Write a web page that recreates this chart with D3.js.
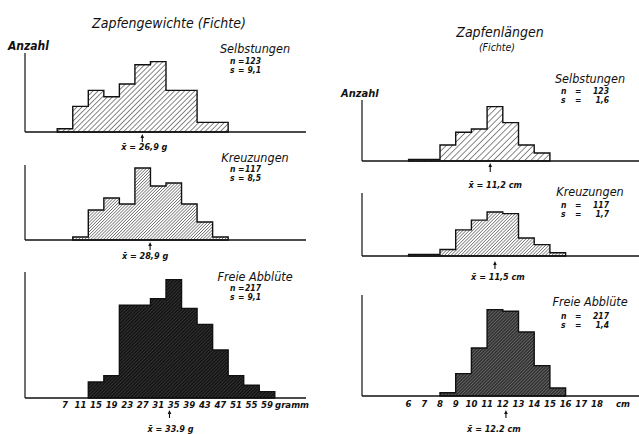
<!DOCTYPE html>
<html>
<head>
<meta charset="utf-8">
<script src="https://cdn.jsdelivr.net/npm/d3@7"></script>
<style>
  body { margin: 0; background: #fff; }
  text { font-family: "DejaVu Sans Condensed", "Liberation Sans Narrow", sans-serif; font-style: italic; fill: #111; }
</style>
</head>
<body>
<svg id="chart" width="639" height="434"></svg>
<script>
// --- data ---
// cone weights, 4 g classes (lower class limits), counts per class
const weightEdges = [5, 9, 13, 17, 21, 25, 29, 33, 37, 41, 45, 49, 53, 57];
const weightTicks = [7, 11, 15, 19, 23, 27, 31, 35, 39, 43, 47, 51, 55, 59];
const weightSelbst = [1, 8, 13, 11, 15, 21, 22, 13, 13, 3, 3, 0, 0, 0];
const weightKreuz  = [0, 1, 10, 14, 12, 24, 18, 19, 12, 6, 1, 0, 0, 0];
const weightFrei   = [0, 0, 5, 7, 29, 29, 31, 37, 28, 23, 15, 7, 4, 2];
const weightMeans  = [26.9, 28.9, 33.9];
const weightMeanLabels = ["26,9 g", "28,9 g", "33.9 g"];
const weightS = ["9,1", "8,5", "9,1"];

// cone lengths, 1 cm classes
const lengthEdges = [6, 7, 8, 9, 10, 11, 12, 13, 14, 15];
const lengthTicks = [6, 7, 8, 9, 10, 11, 12, 13, 14, 15, 16, 17, 18];
const lengthSelbst = [1, 1, 10, 18, 20, 34, 24, 10, 5, 0];
const lengthKreuz  = [1, 1, 4, 16, 22, 27, 26, 11, 7, 2];
const lengthFrei   = [0, 0, 2, 14, 30, 54, 53, 40, 19, 5];
const lengthMeans  = [11.2, 11.5, 12.2];
const lengthMeanLabels = ["11,2 cm", "11,5 cm", "12.2 cm"];
const lengthS = ["1,6", "1,7", "1,4"];

const groups = ["Selbstungen", "Kreuzungen", "Freie Abblüte"];
const groupN = [123, 117, 217];

const svg = d3.select("#chart");
const defs = svg.append("defs");

// hatch patterns
function hatch(id, gap, width, bg, fg) {
  const p = defs.append("pattern")
    .attr("id", id)
    .attr("patternUnits", "userSpaceOnUse")
    .attr("width", gap).attr("height", gap)
    .attr("patternTransform", "rotate(45)");
  p.append("rect").attr("width", gap).attr("height", gap).attr("fill", bg);
  p.append("line").attr("x1", 0).attr("y1", 0).attr("x2", 0).attr("y2", gap)
    .attr("stroke", fg).attr("stroke-width", width);
}
hatch("h-light", 3.6, 1.0, "#fff", "#111");
hatch("h-mid", 2.2, 0.9, "#fff", "#111");
hatch("h-dark", 2.4, 0.7, "#151515", "#606060");
hatch("h-light-r", 4.4, 1.0, "#fff", "#111");
hatch("h-mid-r", 2.3, 0.9, "#fff", "#111");
hatch("h-grey-r", 2.3, 0.9, "#333", "#909090");

const xW = d3.scaleLinear().domain([13, 33]).range([88.3, 166]);
const xL = d3.scaleLinear().domain([8, 12]).range([440, 502.8]);

const leftPanels = [
  { data: weightSelbst, base: 132, top: 53, k: 3.2, fill: "url(#h-light)", arrow: [2, 8], meanY: 150, labelDx: 2, nameY: 53, nY: 64, sY: 73 },
  { data: weightKreuz, base: 240, top: 165, k: 3.0, fill: "url(#h-mid)", arrow: [2, 8], meanY: 259, labelDx: -5, nameY: 162, nY: 172, sY: 181 },
  { data: weightFrei, base: 398, top: 272, k: 3.2, fill: "url(#h-dark)", arrow: [12, 8], meanY: 432, labelDx: 1, nameY: 281, nY: 291, sY: 300 }
];
const rightPanels = [
  { data: lengthSelbst, base: 161, top: 100, k: 1.6, fill: "url(#h-light-r)", arrow: [2, 9], meanY: 188, labelDx: 5, nameY: 83, nY: 94, sY: 103 },
  { data: lengthKreuz, base: 256, top: 193, k: 1.63, fill: "url(#h-mid-r)", arrow: [5, 8], meanY: 280, labelDx: 3, nameY: 196, nY: 208, sY: 217 },
  { data: lengthFrei, base: 396, top: 295, k: 1.6, fill: "url(#h-grey-r)", arrow: [14, 8], meanY: 432, labelDx: -12, nameY: 306, nY: 319, sY: 328 }
];

function drawSide(panels, edges, width, x, axisX, axisEnd, means, meanLabels, sVals, info) {
  panels.forEach((p, i) => {
    const y = d3.scaleLinear().domain([0, 1]).range([p.base, p.base - p.k]);
    const bins = edges.map((e, j) => ({ x0: e, x1: e + width, c: p.data[j] }));
    const first = bins.findIndex(b => b.c > 0);
    const last = bins.length - 1 - [...bins].reverse().findIndex(b => b.c > 0);
    const pts = [[x(bins[first].x0), p.base]];
    bins.slice(first, last + 1).forEach(b => {
      pts.push([x(b.x0), y(b.c)]);
      pts.push([x(b.x1), y(b.c)]);
    });
    pts.push([x(bins[last].x1), p.base]);
    svg.append("path")
      .attr("d", d3.line()(pts) + "Z")
      .attr("fill", p.fill)
      .attr("stroke", "#111")
      .attr("stroke-width", 1.4)
      .attr("stroke-linejoin", "miter");

    // axes
    svg.append("line").attr("x1", axisX).attr("x2", axisX).attr("y1", p.top).attr("y2", p.base)
      .attr("stroke", "#111").attr("stroke-width", 1.2);
    svg.append("line").attr("x1", axisX).attr("x2", axisEnd).attr("y1", p.base).attr("y2", p.base)
      .attr("stroke", "#111").attr("stroke-width", 1.5);

    // mean arrow
    const mx = x(means[i]);
    const a0 = p.base + p.arrow[0], a1 = a0 + p.arrow[1];
    svg.append("line").attr("x1", mx).attr("x2", mx).attr("y1", a0 + 2).attr("y2", a1)
      .attr("stroke", "#111").attr("stroke-width", 1.1);
    svg.append("path").attr("d", `M${mx},${a0}L${mx - 1.8},${a0 + 4}L${mx + 1.8},${a0 + 4}Z`).attr("fill", "#111");
    svg.append("text").attr("x", mx + p.labelDx).attr("y", p.meanY)
      .attr("text-anchor", "middle").attr("font-size", 9).attr("font-weight", "bold")
      .text(`x\u0304 = ${meanLabels[i]}`);

    // group label with n and s
    svg.append("text").attr("x", info.nameX).attr("y", p.nameY)
      .attr("text-anchor", "middle").attr("font-size", 12.5)
      .text(groups[i]);
    svg.append("text").attr("x", info.nsX).attr("y", p.nY).attr("font-size", 8.5).attr("font-weight", "bold").text("n");
    svg.append("text").attr("x", info.nsX + info.eqDx).attr("y", p.nY).attr("font-size", 8.5).attr("font-weight", "bold").text("=");
    svg.append("text").attr("x", info.valX).attr("y", p.nY).attr("text-anchor", "end").attr("font-size", 8.5).attr("font-weight", "bold").text(groupN[i]);
    svg.append("text").attr("x", info.nsX).attr("y", p.sY).attr("font-size", 8.5).attr("font-weight", "bold").text("s");
    svg.append("text").attr("x", info.nsX + info.eqDx).attr("y", p.sY).attr("font-size", 8.5).attr("font-weight", "bold").text("=");
    svg.append("text").attr("x", info.valX).attr("y", p.sY).attr("text-anchor", "end").attr("font-size", 8.5).attr("font-weight", "bold").text(sVals[i]);
  });
}

drawSide(leftPanels, weightEdges, 4, xW, 25, 306, weightMeans, weightMeanLabels, weightS,
  { nameX: 255, nsX: 230, eqDx: 8, valX: 261 });
drawSide(rightPanels, lengthEdges, 1, xL, 362, 639, lengthMeans, lengthMeanLabels, lengthS,
  { nameX: 590, nsX: 561, eqDx: 14, valX: 609 });

// tick labels under the bottom panels
svg.append("g").selectAll("text").data(weightTicks).join("text")
  .attr("x", d => xW(d)).attr("y", 408)
  .attr("text-anchor", "middle").attr("font-size", 9.5).attr("font-weight", "bold")
  .text(d => d);
svg.append("text").attr("x", 292).attr("y", 408).attr("text-anchor", "middle")
  .attr("font-size", 9.5).attr("font-weight", "bold").text("gramm");

svg.append("g").selectAll("text").data(lengthTicks).join("text")
  .attr("x", d => xL(d)).attr("y", 407)
  .attr("text-anchor", "middle").attr("font-size", 9.5).attr("font-weight", "bold")
  .text(d => d);
svg.append("text").attr("x", 623).attr("y", 407).attr("text-anchor", "middle")
  .attr("font-size", 9.5).attr("font-weight", "bold").text("cm");

// titles
svg.append("text").attr("x", 169).attr("y", 28).attr("text-anchor", "middle")
  .attr("font-size", 14).text("Zapfengewichte (Fichte)");
svg.append("text").attr("x", 500).attr("y", 37).attr("text-anchor", "middle")
  .attr("font-size", 14).text("Zapfenlängen");
svg.append("text").attr("x", 497).attr("y", 51).attr("text-anchor", "middle")
  .attr("font-size", 10.5).text("(Fichte)");
svg.append("text").attr("x", 8).attr("y", 50).attr("font-size", 12).attr("font-weight", "bold").text("Anzahl");
svg.append("text").attr("x", 341).attr("y", 97).attr("font-size", 11).attr("font-weight", "bold").text("Anzahl");
</script>
</body>
</html>
